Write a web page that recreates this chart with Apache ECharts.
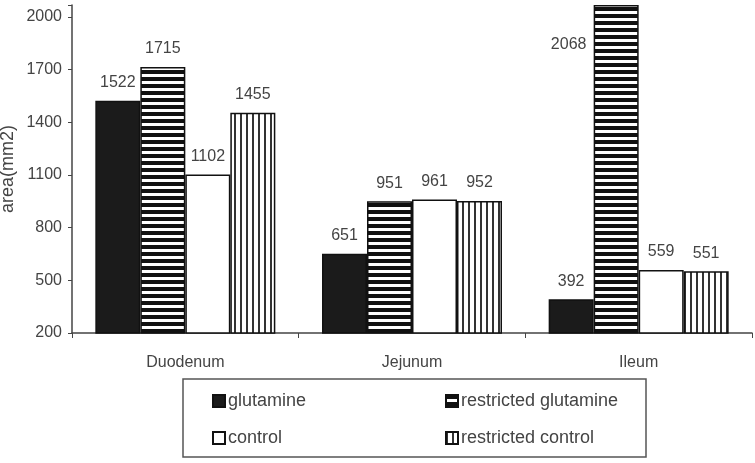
<!DOCTYPE html>
<html lang="en">
<head>
<meta charset="UTF-8">
<title>area chart</title>
<script src="https://cdn.jsdelivr.net/npm/echarts@6/dist/echarts.min.js"></script>
<style>
  html, body { margin: 0; padding: 0; background: #fff; }
  #main { width: 755px; height: 463px; }
</style>
</head>
<body>
<div id="main"></div>
<script>
// data
var regions = ['Duodenum', 'Jejunum', 'Ileum'];
var glutamine = [1522, 651, 392];
var restrictedGlutamine = [1715, 951, 2068];
var control = [1102, 961, 559];
var restrictedControl = [1455, 952, 551];
var yTicks = [200, 500, 800, 1100, 1400, 1700, 2000];

// fill patterns
function hStripes() {
  var c = document.createElement('canvas');
  c.width = 8; c.height = 7;
  var g = c.getContext('2d');
  g.fillStyle = '#fff'; g.fillRect(0, 0, 8, 7);
  g.fillStyle = '#111'; g.fillRect(0, 0, 8, 4);
  return c;
}
function vStripes() {
  var c = document.createElement('canvas');
  c.width = 6; c.height = 8;
  var g = c.getContext('2d');
  g.fillStyle = '#fff'; g.fillRect(0, 0, 6, 8);
  g.fillStyle = '#333'; g.fillRect(0, 0, 2, 8);
  return c;
}

var chart = echarts.init(document.getElementById('main'), null, { renderer: 'canvas' });

var labelStyle = {
  show: true,
  position: 'top',
  distance: 10,
  color: '#444',
  fontSize: 16,
  fontFamily: 'Liberation Sans, Arial, sans-serif'
};

function mkSeries(name, values, fill) {
  return {
    name: name,
    type: 'bar',
    data: values.map(function (v) { return { value: v }; }),
    barWidth: 45,
    barGap: '0%',
    itemStyle: { color: fill, borderColor: '#111', borderWidth: 1.5 },
    label: labelStyle
  };
}

var series = [
  mkSeries('glutamine', glutamine, '#1b1b1b'),
  mkSeries('restricted glutamine', restrictedGlutamine, { image: hStripes(), repeat: 'repeat' }),
  mkSeries('control', control, '#fff'),
  mkSeries('restricted control', restrictedControl, { image: vStripes(), repeat: 'repeat' })
];
// the tall Ileum bar has its label off to the left
series[1].data[2].label = { position: [-25, 40], align: 'center', verticalAlign: 'middle' };

var legendBase = {
  orient: 'vertical',
  top: 392,
  padding: 0,
  itemGap: 19,
  itemWidth: 12, itemHeight: 12,
  icon: 'rect',
  selectedMode: false,
  textStyle: { fontSize: 18, color: '#444', padding: [0, 0, 0, -2] }
};

var option = {
  animation: false,
  textStyle: { fontFamily: 'Liberation Sans, Arial, sans-serif' },
  grid: { left: 72, right: 3, top: 5, bottom: 130, outerBoundsMode: 'none' },
  legend: [
    Object.assign({}, legendBase, { left: 212, data: ['glutamine', 'control'] }),
    Object.assign({}, legendBase, { left: 445, data: ['restricted glutamine', 'restricted control'] })
  ],
  graphic: [{
    type: 'rect',
    shape: { x: 183, y: 379, width: 463, height: 78 },
    style: { fill: 'none', stroke: '#555', lineWidth: 1.5 }
  }],
  xAxis: {
    type: 'category',
    data: regions,
    axisLine: { lineStyle: { color: '#444', width: 1.5 } },
    axisTick: { show: true, length: 5, lineStyle: { color: '#444' } },
    axisLabel: { color: '#444', fontSize: 16, margin: 22 }
  },
  yAxis: {
    type: 'value',
    min: 200,
    max: 2068,
    interval: 300,
    name: 'area(mm2)',
    nameLocation: 'middle',
    nameRotate: 90,
    nameGap: 55,
    nameMoveOverlap: false,
    nameTextStyle: { color: '#444', fontSize: 18 },
    axisLine: { show: true, lineStyle: { color: '#444', width: 1.5 } },
    axisTick: { show: true, length: 4, lineStyle: { color: '#444' } },
    splitLine: { show: false },
    axisLabel: {
      color: '#444', fontSize: 16, margin: 10,
      formatter: function (v) { return yTicks.indexOf(v) >= 0 ? String(v) : ''; }
    }
  },
  series: series
};

chart.setOption(option);
</script>
</body>
</html>
